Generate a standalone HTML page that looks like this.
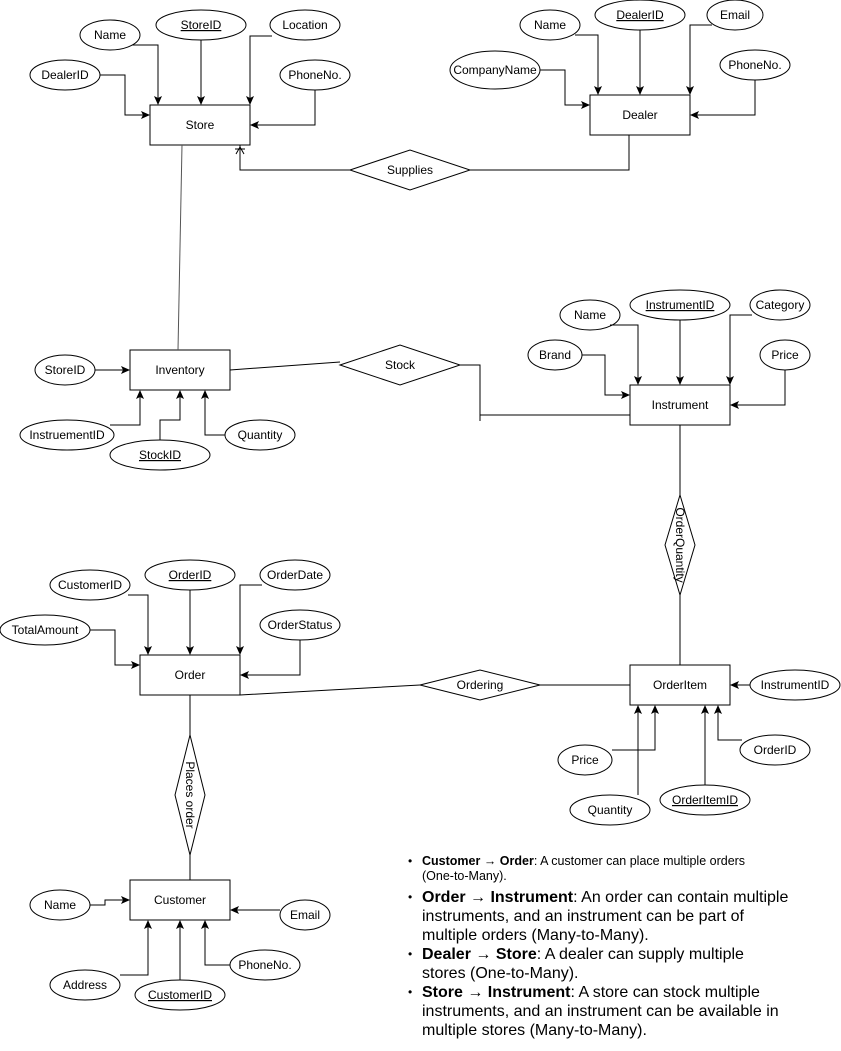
<!DOCTYPE html>
<html><head><meta charset="utf-8"><style>
body{margin:0;background:#fff;width:841px;height:1051px;overflow:hidden;position:relative;font-family:"Liberation Sans",Arial,sans-serif}
svg{position:absolute;left:0;top:0}
svg text{font-family:"Liberation Sans",Arial,sans-serif;font-size:12px;fill:#000}
.notes{position:absolute;left:403px;top:854px;width:430px;margin:0;padding:0;list-style:none;color:#000;white-space:nowrap}
.notes li{position:relative;padding-left:19px;font-size:16px;line-height:19px}
.notes li:before{content:"•";position:absolute;left:5px;font-size:12px}
.notes li.s{font-size:12.5px;line-height:15px;margin-bottom:4px}
</style></head><body>
<svg width="841" height="1051" viewBox="0 0 841 1051">
<defs><marker id="a" markerWidth="10" markerHeight="10" refX="8" refY="4" orient="auto" markerUnits="userSpaceOnUse"><path d="M0,0 L9,4 L0,8 L2,4 z" fill="#000"/></marker></defs>
<g fill="#fff" stroke="#000" stroke-width="1">
<rect x="150" y="105" width="100" height="40"/>
<rect x="590" y="95" width="100" height="40"/>
<rect x="130" y="350" width="100" height="40"/>
<rect x="630" y="385" width="100" height="40"/>
<rect x="140" y="655" width="100" height="40"/>
<rect x="630" y="665" width="100" height="40"/>
<rect x="130" y="880" width="100" height="40"/>
<polygon points="350,170 410,150 470,170 410,190"/>
<polygon points="340,365 400,345 460,365 400,385"/>
<polygon points="420,685 480,670 540,685 480,700"/>
<polygon points="680,495 695,545 680,595 665,545"/>
<polygon points="190,735 205,795 190,855 175,795"/>
<ellipse cx="110" cy="35" rx="30" ry="15"/>
<ellipse cx="201" cy="25" rx="45" ry="15"/>
<ellipse cx="305" cy="25" rx="35" ry="15"/>
<ellipse cx="315" cy="75" rx="35" ry="15"/>
<ellipse cx="65" cy="75" rx="35" ry="15"/>
<ellipse cx="550" cy="25" rx="30" ry="15"/>
<ellipse cx="640" cy="15" rx="45" ry="15"/>
<ellipse cx="735" cy="15" rx="28" ry="15"/>
<ellipse cx="755" cy="65" rx="35" ry="15"/>
<ellipse cx="495" cy="70" rx="45" ry="19"/>
<ellipse cx="65" cy="370" rx="30" ry="15"/>
<ellipse cx="67" cy="435" rx="47" ry="15"/>
<ellipse cx="160" cy="455" rx="50" ry="15"/>
<ellipse cx="260" cy="435" rx="35" ry="15"/>
<ellipse cx="590" cy="315" rx="30" ry="15"/>
<ellipse cx="680" cy="305" rx="50" ry="15"/>
<ellipse cx="780" cy="305" rx="30" ry="15"/>
<ellipse cx="555" cy="355" rx="27" ry="15"/>
<ellipse cx="785" cy="355" rx="25" ry="15"/>
<ellipse cx="795" cy="685" rx="45" ry="15"/>
<ellipse cx="775" cy="750" rx="35" ry="15"/>
<ellipse cx="705" cy="800" rx="45" ry="15"/>
<ellipse cx="585" cy="760" rx="27" ry="15"/>
<ellipse cx="610" cy="810" rx="40" ry="15"/>
<ellipse cx="90" cy="585" rx="40" ry="15"/>
<ellipse cx="190" cy="575" rx="45" ry="15"/>
<ellipse cx="295" cy="575" rx="35" ry="15"/>
<ellipse cx="300" cy="625" rx="40" ry="15"/>
<ellipse cx="45" cy="630" rx="45" ry="15"/>
<ellipse cx="60" cy="905" rx="30" ry="15"/>
<ellipse cx="305" cy="915" rx="25" ry="15"/>
<ellipse cx="85" cy="985" rx="35" ry="15"/>
<ellipse cx="180" cy="995" rx="45" ry="15"/>
<ellipse cx="265" cy="965" rx="35" ry="15"/>
</g>
<g fill="none" stroke="#000" stroke-width="1">
<path d="M132,45 H158 V104" marker-end="url(#a)"/>
<path d="M201,40 V104" marker-end="url(#a)"/>
<path d="M272,36 H250 V104" marker-end="url(#a)"/>
<path d="M315,90 V125 H251" marker-end="url(#a)"/>
<path d="M100,75 H125 V115 H149" marker-end="url(#a)"/>
<path d="M182,145 L178,350" stroke="#555"/>
<path d="M240,145 V170 H350"/>
<path d="M235,149 H245 M236,154 L240,147 L244,154"/>
<path d="M470,170 H629 V135"/>
<path d="M575,35 H598 V94" marker-end="url(#a)"/>
<path d="M640,30 V94" marker-end="url(#a)"/>
<path d="M712,25 H690 V94" marker-end="url(#a)"/>
<path d="M755,80 V115 H691" marker-end="url(#a)"/>
<path d="M540,70 H565 V105 H589" marker-end="url(#a)"/>
<path d="M95,370 H129" marker-end="url(#a)"/>
<path d="M110,425 H140 V391" marker-end="url(#a)"/>
<path d="M160,440 V420 H180 V391" marker-end="url(#a)"/>
<path d="M225,435 H205 V391" marker-end="url(#a)"/>
<path d="M230,370 L340,362"/>
<path d="M460,365 H480 V415 H630 M480,410 V421"/>
<path d="M610,325 H638 V384" marker-end="url(#a)"/>
<path d="M680,320 V384" marker-end="url(#a)"/>
<path d="M752,315 H730 V384" marker-end="url(#a)"/>
<path d="M582,355 H605 V395 H629" marker-end="url(#a)"/>
<path d="M785,370 V405 H731" marker-end="url(#a)"/>
<path d="M680,425 V495 M680,595 V665"/>
<path d="M750,685 H731" marker-end="url(#a)"/>
<path d="M742,740 H718 V706" marker-end="url(#a)"/>
<path d="M705,785 V706" marker-end="url(#a)"/>
<path d="M612,750 H655 V706" marker-end="url(#a)"/>
<path d="M638,795 V706" marker-end="url(#a)"/>
<path d="M540,685 H630 M420,685 L240,695"/>
<path d="M128,595 H148 V654" marker-end="url(#a)"/>
<path d="M190,590 V654" marker-end="url(#a)"/>
<path d="M262,585 H240 V654" marker-end="url(#a)"/>
<path d="M300,640 V675 H241" marker-end="url(#a)"/>
<path d="M90,630 H115 V665 H139" marker-end="url(#a)"/>
<path d="M190,695 V735 M190,855 V880"/>
<path d="M90,905 H105 V900 H129" marker-end="url(#a)"/>
<path d="M280,910 H231" marker-end="url(#a)"/>
<path d="M120,975 H148 V921" marker-end="url(#a)"/>
<path d="M180,980 V921" marker-end="url(#a)"/>
<path d="M230,965 H205 V921" marker-end="url(#a)"/>
</g>
<g text-anchor="middle">
<text x="200" y="129">Store</text>
<text x="640" y="119">Dealer</text>
<text x="180" y="374">Inventory</text>
<text x="680" y="409">Instrument</text>
<text x="190" y="679">Order</text>
<text x="680" y="689">OrderItem</text>
<text x="180" y="904">Customer</text>
<text x="410" y="174">Supplies</text>
<text x="400" y="369">Stock</text>
<text x="480" y="689">Ordering</text>
<text transform="translate(676,545) rotate(90)">OrderQuantity</text>
<text transform="translate(186,795) rotate(90)">Places order</text>
<text x="110" y="39">Name</text>
<text x="201" y="29" text-decoration="underline">StoreID</text>
<text x="305" y="29">Location</text>
<text x="315" y="79">PhoneNo.</text>
<text x="65" y="79">DealerID</text>
<text x="550" y="29">Name</text>
<text x="640" y="19" text-decoration="underline">DealerID</text>
<text x="735" y="19">Email</text>
<text x="755" y="69">PhoneNo.</text>
<text x="495" y="74">CompanyName</text>
<text x="65" y="374">StoreID</text>
<text x="67" y="439">InstruementID</text>
<text x="160" y="459" text-decoration="underline">StockID</text>
<text x="260" y="439">Quantity</text>
<text x="590" y="319">Name</text>
<text x="680" y="309" text-decoration="underline">InstrumentID</text>
<text x="780" y="309">Category</text>
<text x="555" y="359">Brand</text>
<text x="785" y="359">Price</text>
<text x="795" y="689">InstrumentID</text>
<text x="775" y="754">OrderID</text>
<text x="705" y="804" text-decoration="underline">OrderItemID</text>
<text x="585" y="764">Price</text>
<text x="610" y="814">Quantity</text>
<text x="90" y="589">CustomerID</text>
<text x="190" y="579" text-decoration="underline">OrderID</text>
<text x="295" y="579">OrderDate</text>
<text x="300" y="629">OrderStatus</text>
<text x="45" y="634">TotalAmount</text>
<text x="60" y="909">Name</text>
<text x="305" y="919">Email</text>
<text x="85" y="989">Address</text>
<text x="180" y="999" text-decoration="underline">CustomerID</text>
<text x="265" y="969">PhoneNo.</text>
</g>
</svg>
<ul class="notes">
<li class="s"><b>Customer → Order</b>: A customer can place multiple orders<br>(One-to-Many).</li>
<li><b>Order → Instrument</b>: An order can contain multiple<br>instruments, and an instrument can be part of<br>multiple orders (Many-to-Many).</li>
<li><b>Dealer → Store</b>: A dealer can supply multiple<br>stores (One-to-Many).</li>
<li><b>Store → Instrument</b>: A store can stock multiple<br>instruments, and an instrument can be available in<br>multiple stores (Many-to-Many).</li>
</ul>
</body></html>
